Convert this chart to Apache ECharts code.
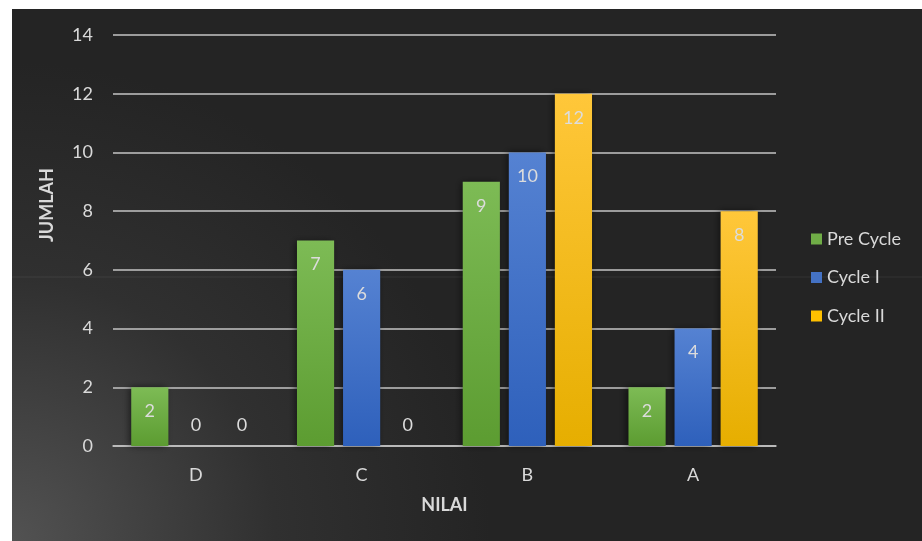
<!DOCTYPE html>
<html><head><meta charset="utf-8">
<style>html,body{margin:0;padding:0;background:#fff;}#c{width:922px;height:541px;}</style>
<script src="https://cdn.jsdelivr.net/npm/echarts@6/dist/echarts.min.js"></script>
</head><body><div id="c"></div>
<script>
const categories = ['D', 'C', 'B', 'A'];
const preCycle = [2, 7, 9, 2];
const cycle1 = [0, 6, 10, 4];
const cycle2 = [0, 0, 12, 8];
const seriesNames = ['Pre Cycle', 'Cycle I', 'Cycle II'];
const yTicks = [0, 2, 4, 6, 8, 10, 12, 14];

const chart = echarts.init(document.getElementById('c'), null, {renderer: 'canvas'});
const FONT = 'Lato, "Open Sans", sans-serif';
function grad(top, bottom) {
  return new echarts.graphic.LinearGradient(0, 0, 0, 1, [{offset: 0, color: top}, {offset: 1, color: bottom}]);
}
const styles = [
  {color: grad('#7dbb55', '#5c9c31'), solid: '#70ad47'},
  {color: grad('#5582d2', '#2e60bb'), solid: '#4472c4'},
  {color: grad('#ffc73a', '#e6ae00'), solid: '#ffc000'}
];
function mkData(arr) {
  return arr.map(v => v === 0
    ? {value: v, label: {position: 'top', distance: 12}}
    : {value: v});
}
const all = [preCycle, cycle1, cycle2];
const series = all.map((arr, i) => ({
  name: seriesNames[i],
  type: 'bar',
  data: mkData(arr),
  barGap: '24%',
  barCategoryGap: '22%',
  itemStyle: {color: styles[i].color, shadowColor: 'rgba(0,0,0,0.55)', shadowBlur: 7, shadowOffsetX: -2},
  label: {show: true, position: 'insideTop', distance: 15, color: '#dcdcdc', fontSize: 18, fontFamily: FONT}
}));

chart.setOption({
  animation: false,
  backgroundColor: '#fff',
  graphic: [
    {type: 'rect', z: -10, shape: {x: 12, y: 9, width: 910, height: 532},
     style: {fill: new echarts.graphic.RadialGradient(0, 1, 0.9, [{offset: 0, color: '#525252'}, {offset: 0.55, color: '#303030'}, {offset: 1, color: '#242424'}])}},
    {type: 'line', z: -9, shape: {x1: 12, y1: 277, x2: 922, y2: 277}, style: {stroke: 'rgba(255,255,255,0.07)', lineWidth: 1}},
    {type: 'text', x: 47, y: 205, rotation: Math.PI / 2,
     style: {text: 'JUMLAH', fill: '#d9d9d9', font: 'bold 18px ' + FONT, textAlign: 'center', textVerticalAlign: 'middle'}}
  ],
  grid: {left: 113, right: 146, top: 35, bottom: 95},
  legend: {
    orient: 'vertical', left: 811, top: 229, padding: 0,
    itemWidth: 11, itemHeight: 11, itemGap: 18.5,
    icon: 'rect',
    data: seriesNames.map((n, i) => ({name: n, itemStyle: {color: styles[i].solid}})),
    textStyle: {color: '#d9d9d9', fontSize: 18, lineHeight: 20, fontFamily: FONT}
  },
  xAxis: {
    type: 'category', data: categories,
    name: 'NILAI', nameLocation: 'middle', nameGap: 50,
    nameTextStyle: {color: '#d9d9d9', fontSize: 18, fontWeight: 'bold', fontFamily: FONT},
    axisLine: {show: true, lineStyle: {color: '#c4c4c4', width: 1.5}},
    axisTick: {show: false},
    axisLabel: {color: '#d9d9d9', fontSize: 18, margin: 20, fontFamily: FONT}
  },
  yAxis: {
    type: 'value', min: yTicks[0], max: yTicks[yTicks.length - 1], interval: 2,
    axisLine: {show: false}, axisTick: {show: false},
    axisLabel: {color: '#d9d9d9', fontSize: 18, margin: 20, fontFamily: FONT},
    splitLine: {lineStyle: {color: '#c4c4c4', width: 1.5}}
  },
  series: series
});
</script></body></html>
